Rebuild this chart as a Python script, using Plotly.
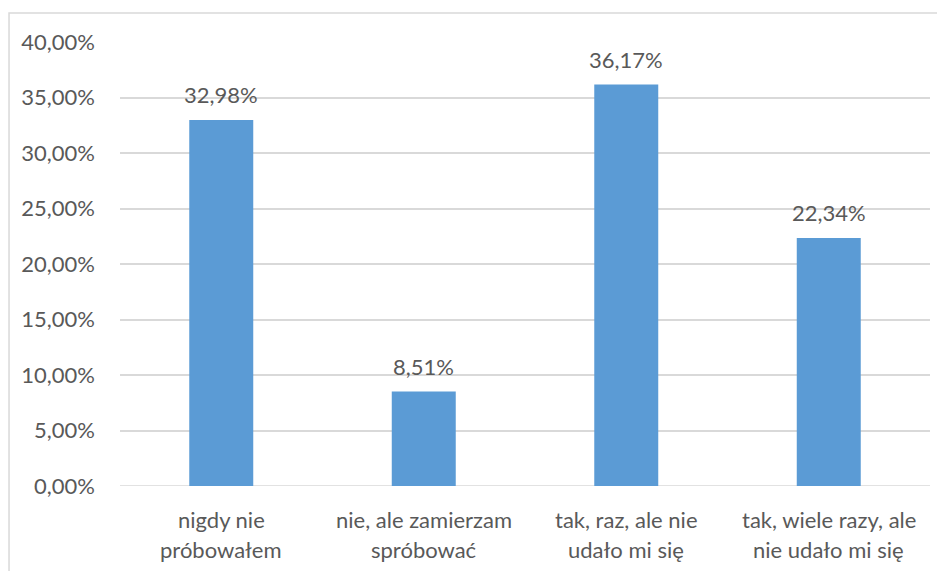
import plotly.graph_objects as go

categories = ["nigdy nie<br>próbowałem", "nie, ale zamierzam<br>spróbować",
              "tak, raz, ale nie<br>udało mi się", "tak, wiele razy, ale<br>nie udało mi się"]
cat_ids = ["c1", "c2", "c3", "c4"]
values = [0.3298, 0.0851, 0.3617, 0.2234]
value_labels = ["32,98%", "8,51%", "36,17%", "22,34%"]

FONT = "Lato, Carlito, Calibri, sans-serif"
TXT = "#595959"
FS = 22

fig = go.Figure(go.Bar(x=cat_ids, y=values, marker=dict(color="#5B9BD5", line=dict(width=0)),
                       width=0.316, hoverinfo="skip"))

ann = []
for c, v, lab in zip(cat_ids, values, value_labels):
    ann.append(dict(x=c, y=v, xref="x", yref="y", text=lab, showarrow=False,
                    yanchor="bottom", yshift=10, font=dict(family=FONT, size=FS, color=TXT)))
for c, lab in zip(cat_ids, categories):
    lines = lab.split("<br>")
    for i, ln in enumerate(lines):
        ann.append(dict(x=c, y=0, xref="x", yref="y", text=ln, showarrow=False,
                        yanchor="middle", yshift=-33 - 30 * i,
                        font=dict(family=FONT, size=FS, color=TXT)))

fig.update_layout(
    width=937, height=563,
    margin=dict(l=112, r=15, t=34, b=85),
    paper_bgcolor="white", plot_bgcolor="white",
    separators=", ",
    showlegend=False,
    bargap=0.684,
    font=dict(family=FONT, size=FS, color=TXT),
    xaxis=dict(showticklabels=False, showgrid=False, zeroline=False, showline=False,
               ticks="", range=[-0.5, 3.5]),
    yaxis=dict(range=[0, 0.4], dtick=0.05, tickformat=".2%", showgrid=True,
               gridcolor="#D9D9D9", gridwidth=1.5, zeroline=False, showline=False,
               ticks="", ticklabelstandoff=24,
               tickfont=dict(family=FONT, size=FS, color=TXT)),
    annotations=ann,
    shapes=[dict(type="rect", xref="paper", yref="paper", x0=-0.137, x1=1.05, y0=-0.25, y1=1.0653,
                 line=dict(color="#D9D9D9", width=1.5), fillcolor="rgba(0,0,0,0)", layer="below"),
            dict(type="line", xref="paper", yref="y", x0=0, x1=1, y0=0, y1=0,
                 line=dict(color="#D9D9D9", width=1.5), layer="below")],
)

fig.write_html("out.html")
